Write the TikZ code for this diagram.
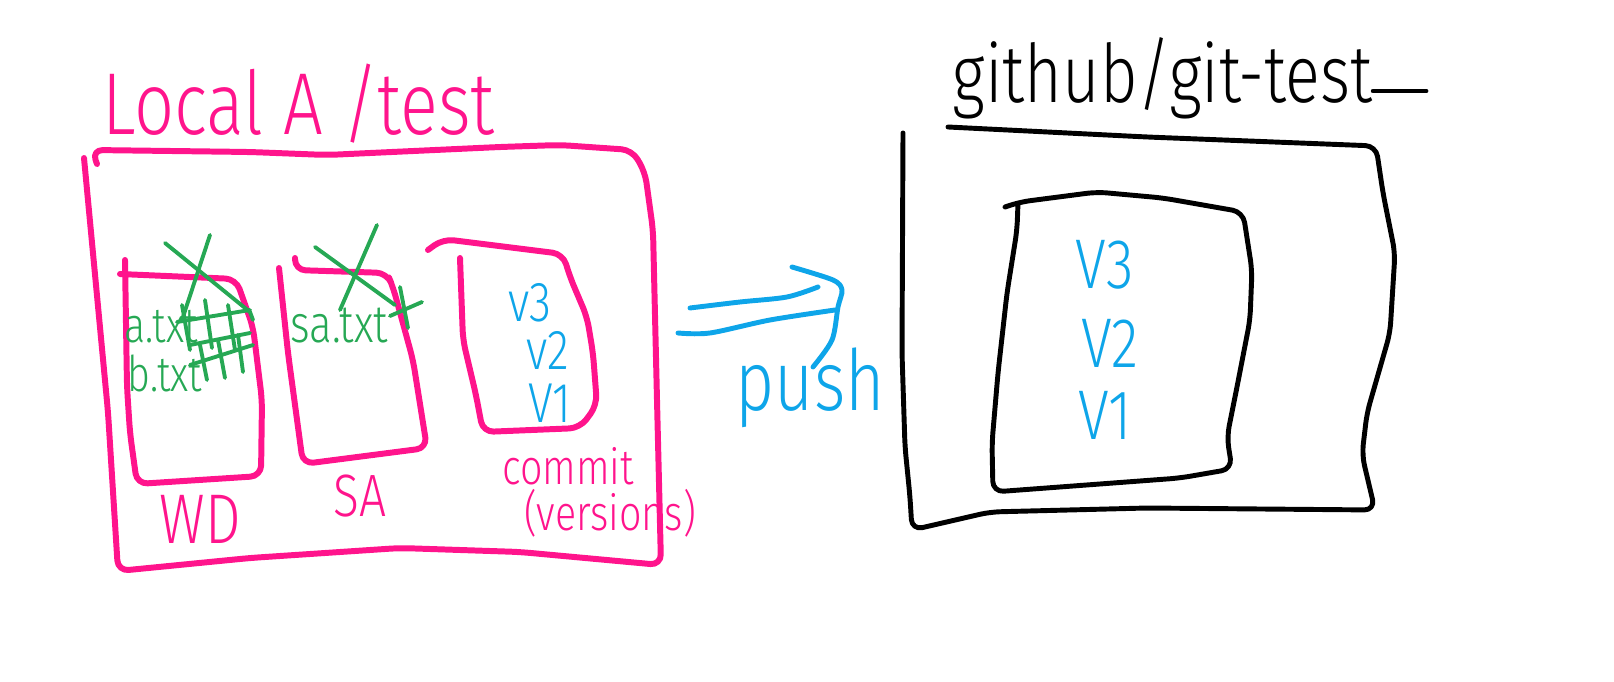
\documentclass[tikz,border=0pt]{standalone}
\usepackage{fontspec}
\newfontfamily\handfont[FakeStretch=0.8]{Fira Sans Light}
\usetikzlibrary{positioning}
\definecolor{hotpink}{RGB}{255,20,140}
\definecolor{leafgreen}{RGB}{38,168,84}
\definecolor{skyblue}{RGB}{14,165,233}

\begin{document}
\begin{tikzpicture}[x=0.01cm, y=-0.01cm,
         local/.style = {hotpink, line width=1.7pt, line cap=round, line join=round,
            rounded corners=3pt},
         remote/.style = {black, line width=1.4pt, line cap=round, line join=round,
            rounded corners=3pt},
         crossout/.style = {leafgreen, line width=1.1pt, line cap=round},
         pushline/.style = {skyblue, line width=1.4pt, line cap=round, line join=round},
         hand/.style = {inner sep=0pt, font=\handfont\fontsize{#1}{#1}\selectfont},
         hand/.default = 16
]
      \useasboundingbox (0,0) rectangle (1614,682);

      % local repository
      \node[hand=25, text=hotpink, anchor=base west] (localtitle) at (102,135) {Local A /test};

      \draw[local] (84,158) -- (108,412) -- (118,571) -- (250,558) -- (400,548)
         -- (520,552) -- (661,565) -- (657,400) -- (653,230) -- (645,172) -- (632,150)
         -- (560,145) -- (500,147) -- (327,155) -- (250,152) -- (92,150) -- (97,164);

      % working directory
      \draw[local] (125,260) -- (127,387) -- (130,433) -- (137,484) -- (261,476)
         -- (262,400) -- (253,327) -- (236,279) -- (120,274);
      \node[hand=20, text=hotpink] (wd) at (200,519) {WD};

      % staging area
      \draw[local] (279,268) -- (288,353) -- (303,464) -- (427,448) -- (413,360)
         -- (393,287) -- (387,273) -- (295,270) -- (295,258);
      \node[hand=17, text=hotpink] (sa) at (360,496) {SA};

      % commits
      \draw[local] (460,258) -- (463,340) -- (476,395) -- (483,432) -- (580,428)
         -- (597,405) -- (593,353) -- (587,317) -- (570,277) -- (563,254) -- (443,239)
         -- (428,250);
      \node[hand=14, text=hotpink] (commit) at (568,466) {commit};
      \node[hand=14, text=hotpink] (versions) at (610,513) {(versions)};

      \node[hand=16, text=skyblue] (lv3) at (530,303) {v3};
      \node[hand=16, text=skyblue] (lv2) at (548,350) {v2};
      \node[hand=16, text=skyblue] (lv1) at (550,403) {V1};

      % files, crossed out
      \node[hand=14, text=leafgreen, anchor=base west] (atxt) at (124,343) {a.txt};
      \node[hand=14, text=leafgreen, anchor=base west] (btxt) at (127,392) {b.txt};
      \node[hand=15, text=leafgreen, anchor=base west] (satxt) at (290,343) {sa.txt};

      \draw[crossout] (165,243) -- (250,312) -- (253,320);
      \draw[crossout] (210,235) -- (182,320);
      \draw[crossout] (177,322) -- (250,310);
      \draw[crossout] (190,345) -- (250,333);
      \draw[crossout] (182,305) -- (190,350);
      \draw[crossout] (205,300) -- (212,348);
      \draw[crossout] (228,305) -- (235,350);
      \draw[crossout] (190,365) -- (253,345);
      \draw[crossout] (200,345) -- (207,380);
      \draw[crossout] (218,340) -- (225,378);
      \draw[crossout] (238,335) -- (243,372);

      \draw[crossout] (315,247) -- (395,305);
      \draw[crossout] (377,225) -- (340,310);
      \draw[crossout] (400,287) -- (408,328);
      \draw[crossout] (390,316) -- (422,302);

      % push
      \draw[pushline] plot[smooth] coordinates {(690,308) (740,302) (787,297) (818,287)};
      \draw[pushline] plot[smooth] coordinates {(678,333) (710,333) (770,320) (835,310)};
      \draw[pushline] plot[smooth] coordinates {(792,267) (833,280) (842,290) (838,307)
         (832,340) (813,367)};
      \node[hand=24, text=skyblue, anchor=base west] (push) at (735,410) {push};

      % remote repository
      \node[hand=23, anchor=base west] (remotetitle) at (952,103) {github/git-test};
      \coordinate (titletail) at (1426,91);
      \draw[remote] (remotetitle.east |- titletail) -- (titletail);

      \draw[remote] (903,133) -- (902,353) -- (905,447) -- (910,497) -- (912,530)
         -- (990,512) -- (1147,508) -- (1375,510) -- (1362,455) -- (1367,413)
         -- (1390,333) -- (1395,253) -- (1383,193) -- (1376,146) -- (1147,137)
         -- (948,127);

      \draw[remote] (1018,203) -- (1017,230) -- (1007,293) -- (998,373) -- (992,443)
         -- (993,492) -- (1180,478) -- (1232,469) -- (1227,437) -- (1237,387)
         -- (1250,320) -- (1252,270) -- (1243,212) -- (1163,198) -- (1097,192)
         -- (1020,202) -- (1005,207);

      \node[hand=20, text=skyblue] (rv3) at (1105,265) {V3};
      \node[hand=20, text=skyblue] (rv2) at (1110,343) {V2};
      \node[hand=20, text=skyblue] (rv1) at (1105,415) {V1};

\end{tikzpicture}
\end{document}
